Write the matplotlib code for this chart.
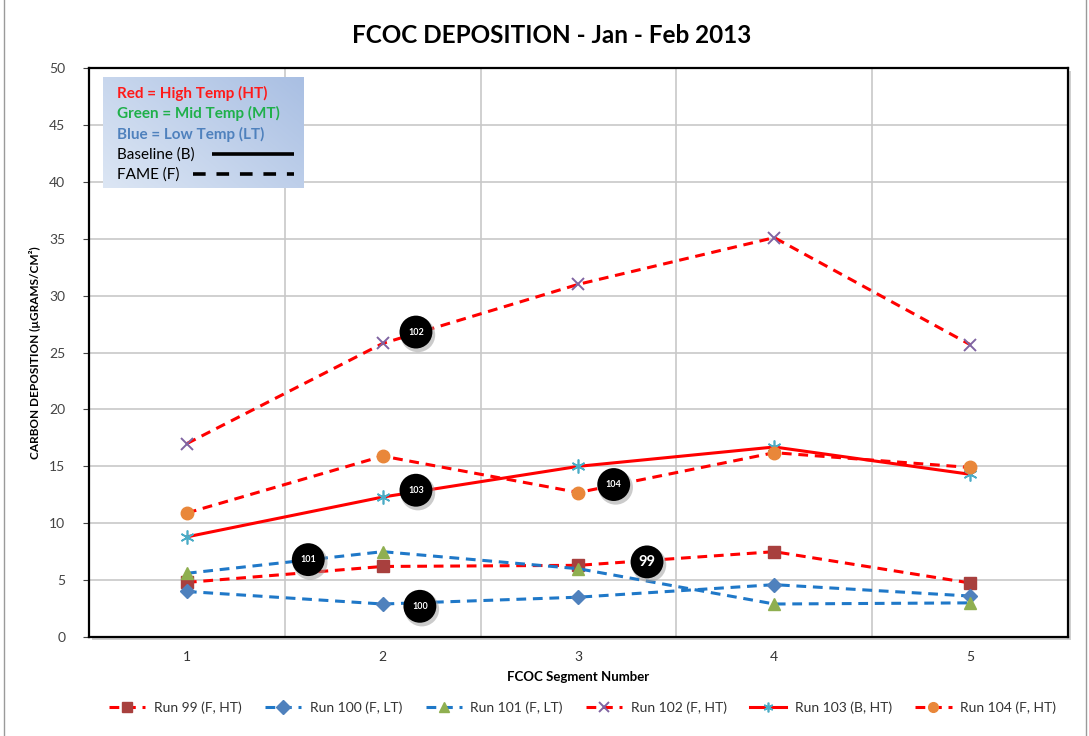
import matplotlib
matplotlib.use("Agg")
import matplotlib.pyplot as plt
import numpy as np
from matplotlib.patches import Rectangle
from matplotlib.colors import LinearSegmentedColormap

plt.rcParams['font.family'] = ['Lato', 'DejaVu Sans']

segments = [1, 2, 3, 4, 5]
run99 = [4.8, 6.2, 6.3, 7.5, 4.75]
run100 = [4.0, 2.9, 3.5, 4.6, 3.6]
run101 = [5.6, 7.5, 6.0, 2.9, 3.0]
run102 = [17.0, 25.8, 31.0, 35.1, 25.7]
run103 = [8.8, 12.3, 15.0, 16.7, 14.3]
run104 = [10.9, 15.9, 12.7, 16.2, 14.9]

series_names = ["Run 99 (F, HT)", "Run 100 (F, LT)", "Run 101 (F, LT)",
                "Run 102 (F, HT)", "Run 103 (B, HT)", "Run 104 (F, HT)"]

tag_texts = ["102", "103", "104", "101", "99", "100"]
tag_x = [2.17, 2.17, 3.18, 1.62, 3.35, 2.19]
tag_y = [26.8, 12.9, 13.4, 6.8, 6.6, 2.7]

RED = "#FF0000"
BLUE = "#1F78C8"

fig = plt.figure(figsize=(10.89, 7.36), dpi=100)
fig.patches.append(Rectangle((0.004, -0.01), 0.993, 1.2, transform=fig.transFigure,
                             fill=False, edgecolor="#9a9a9a", linewidth=1.0))

ax = fig.add_axes([0.0817, 0.1345, 0.899, 0.773])
ax.set_xlim(0.5, 5.5)
ax.set_ylim(0, 50)
ax.set_yticks(np.arange(0, 51, 5))
ax.set_xticks(segments)
ax.set_xticks([1.5, 2.5, 3.5, 4.5], minor=True)
ax.grid(True, which="major", axis="y", color="#c8c8c8", linewidth=1.2)
ax.grid(True, which="minor", axis="x", color="#c8c8c8", linewidth=1.2)
ax.tick_params(axis="x", which="both", length=0, labelsize=10, colors="#333333", pad=10)
ax.tick_params(axis="y", length=4, labelsize=10, colors="#444444", pad=13)
for s in ax.spines.values():
    s.set_color("black")
    s.set_linewidth(1.6)
ax.set_axisbelow(True)

ax_pos = ax.get_position()
fig.patches.append(Rectangle((ax_pos.x0 + 0.003, ax_pos.y0 - 0.004), ax_pos.width, ax_pos.height,
                             transform=fig.transFigure, facecolor="#bbbbbb", edgecolor="none",
                             zorder=-1, alpha=0.7))
ax.set_facecolor("white")

dash = (3.2, 2.2)
lw = 2.2
l99, = ax.plot(segments, run99, color=RED, lw=lw, dashes=dash, marker="s", ms=8,
               mfc="#A8403E", mec="#A8403E", label=series_names[0])
l100, = ax.plot(segments, run100, color=BLUE, lw=lw, dashes=dash, marker="D", ms=7,
                mfc="#4F81BD", mec="#4F81BD", label=series_names[1])
l101, = ax.plot(segments, run101, color=BLUE, lw=lw, dashes=dash, marker="^", ms=9,
                mfc="#8FAF50", mec="#8FAF50", label=series_names[2])
l102, = ax.plot(segments, run102, color=RED, lw=lw, dashes=dash, marker="x", ms=9, mew=1.4,
                mfc="#8064A2", mec="#8064A2", label=series_names[3])
l103, = ax.plot(segments, run103, color=RED, lw=lw, marker=(6, 2, 0), ms=10, mew=1.2,
                mfc="#4BACC6", mec="#4BACC6", label=series_names[4])
l104, = ax.plot(segments, run104, color=RED, lw=lw, dashes=dash, marker="o", ms=9,
                mfc="#E9873A", mec="#E9873A", label=series_names[5])

for t, x, y in zip(tag_texts, tag_x, tag_y):
    ax.scatter([x + 0.01], [y - 0.25], s=620, color="#999999", alpha=0.5, zorder=5, edgecolors="none")
    ax.scatter([x], [y], s=560, color="black", zorder=6, edgecolors="none")
    fs = 10.5 if t == "99" else 6.5
    ax.text(x, y, t, color="white", ha="center", va="center", fontsize=fs,
            fontweight="bold", zorder=7)

fig.text(0.507, 0.952, "FCOC DEPOSITION - Jan - Feb 2013", ha="center", va="center",
         fontsize=17.5, fontweight="bold")
ax.set_xlabel("FCOC Segment Number", fontsize=9.5, fontweight="bold", labelpad=6)
ax.set_ylabel("CARBON DEPOSITION (µGRAMS/CM²)", fontsize=8.5, fontweight="bold", labelpad=6)

box_x0, box_x1 = 0.5 + (103 - 89) / 195.8, 0.5 + (303 - 89) / 195.8
box_y0, box_y1 = (637 - 188) / 11.38, (637 - 77) / 11.38
grad = np.linspace(0, 1, 256).reshape(1, -1) * 0.6 + np.linspace(0, 1, 256).reshape(-1, 1)[::-1] * 0.4
cmap = LinearSegmentedColormap.from_list("g", ["#DCE6F4", "#A9BFE3"])
ax.imshow(grad, extent=[box_x0, box_x1, box_y0, box_y1], aspect="auto", cmap=cmap,
          zorder=8, origin="upper")
ax.set_xlim(0.5, 5.5)
ax.set_ylim(0, 50)
tx = box_x0 + 0.07
ys = [637 - 93, 637 - 113, 637 - 134, 637 - 154, 637 - 174]
ys = [v / 11.38 for v in ys]
kfs = 11
ax.text(tx, ys[0], "Red = High Temp (HT)", color="#FF1A1A", fontsize=kfs, fontweight="bold",
        va="center", zorder=9)
ax.text(tx, ys[1], "Green = Mid Temp (MT)", color="#1FB04A", fontsize=kfs, fontweight="bold",
        va="center", zorder=9)
ax.text(tx, ys[2], "Blue = Low Temp (LT)", color="#4F81BD", fontsize=kfs, fontweight="bold",
        va="center", zorder=9)
ax.text(tx, ys[3], "Baseline (B)", color="black", fontsize=kfs, va="center", zorder=9)
ax.text(tx, ys[4], "FAME (F)", color="black", fontsize=kfs, va="center", zorder=9)
bx0 = 0.5 + (212 - 89) / 195.8
bx1 = 0.5 + (294 - 89) / 195.8
ax.plot([bx0, bx1], [ys[3], ys[3]], color="black", lw=2.6, zorder=9, solid_capstyle="butt")
fx0 = 0.5 + (193 - 89) / 195.8
ax.plot([fx0, bx1], [ys[4], ys[4]], color="black", lw=2.6, dashes=(3.5, 3), zorder=9)

leg = fig.legend(handles=[l99, l100, l101, l102, l103, l104], loc="center",
                 bbox_to_anchor=(0.535, 0.039), ncol=6, frameon=False, fontsize=10,
                 handlelength=2.6, columnspacing=1.7, handletextpad=0.6)
for h in leg.legend_handles:
    h.set_markersize(7)
for t in leg.get_texts():
    t.set_color("#333333")

fig.savefig("out.png", dpi=100)
